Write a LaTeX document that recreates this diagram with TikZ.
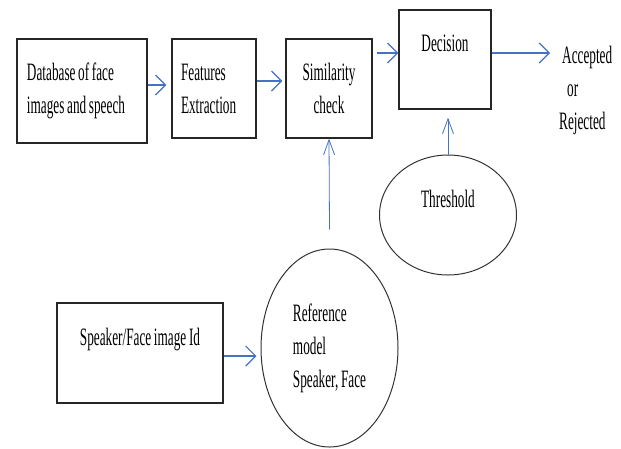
\documentclass[tikz,border=0pt]{standalone}
\usepackage{fontspec}
\setmainfont{Liberation Serif}[FakeStretch=0.53,WordSpace=0.8]
\usetikzlibrary{arrows.meta,shapes.geometric,calc}
\definecolor{arrblue}{HTML}{4472C4}
\begin{document}
\begin{tikzpicture}[x=1pt,y=-1pt,
  box/.style={draw=black!85, line width=1.3pt, rectangle, inner sep=0pt},
  oval/.style={draw=black!80, line width=1pt, ellipse, inner sep=0pt},
  harr/.style={draw=arrblue, line width=1.4pt, -{Straight Barb[length=10pt,width=20pt,line width=1.2pt]}},
  varr/.style={draw=arrblue, line width=0.8pt, -{Straight Barb[length=15pt,width=11pt,line width=0.8pt]}},
  txt/.style={font=\fontsize{25}{33}\selectfont}
]
\useasboundingbox (0,0) rectangle (621,448);

\node[box, txt, minimum width=130pt, minimum height=104pt, text width=110pt, align=flush left] (db) at (82,91) {Database of face\\images and speech};
\node[box, txt, minimum width=84pt, minimum height=99pt, text width=66pt, align=flush left] (fe) at (214,88.5) {Features\\Extraction};
\node[box, txt, minimum width=86pt, minimum height=99pt, text width=72pt, align=flush center] (sim) at (329,88.5) {Similarity\\check};
\node[box, txt, minimum width=92pt, minimum height=99pt, align=center] (dec) at (445,59.5) {Decision\\\mbox{}};
\node[oval, txt, minimum width=137pt, minimum height=120pt, align=center] (thr) at (448,215) {Threshold\\\mbox{}};
\node[box, txt, minimum width=166pt, minimum height=100pt, align=center] (spk) at (140,353) {Speaker/Face image Id\\\mbox{}};
\node[oval, txt, minimum width=137pt, minimum height=198pt, align=flush left] (ref) at (329.5,348) {Reference\\model\\Speaker, Face};
\node[txt, inner sep=0pt, anchor=west, align=flush left] (res) at (559,90) {\hspace*{3pt}Accepted\\\hspace*{8pt}or\\Rejected};

\draw[harr] ([yshift=6pt]db.east) -- ([xshift=-5pt,yshift=3.5pt]fe.west);
\draw[harr] ([yshift=7.5pt]fe.east) -- ([xshift=-3pt,yshift=7.5pt]sim.west);
\draw[harr] ([xshift=4pt,yshift=35.5pt]sim.east) -- ([yshift=6.5pt]dec.west);
\draw[harr] ([yshift=6.5pt]dec.east) -- ([xshift=-9pt,yshift=37pt]res.west);
\draw[harr] ([yshift=-3pt]spk.east) -- ([xshift=-4pt,yshift=-8pt]ref.west);
\draw[varr] ([yshift=19pt]ref.north) -- (sim.south);
\draw[varr] (thr.north) -- ([xshift=3pt,yshift=-8pt]dec.south);
\end{tikzpicture}
\end{document}
